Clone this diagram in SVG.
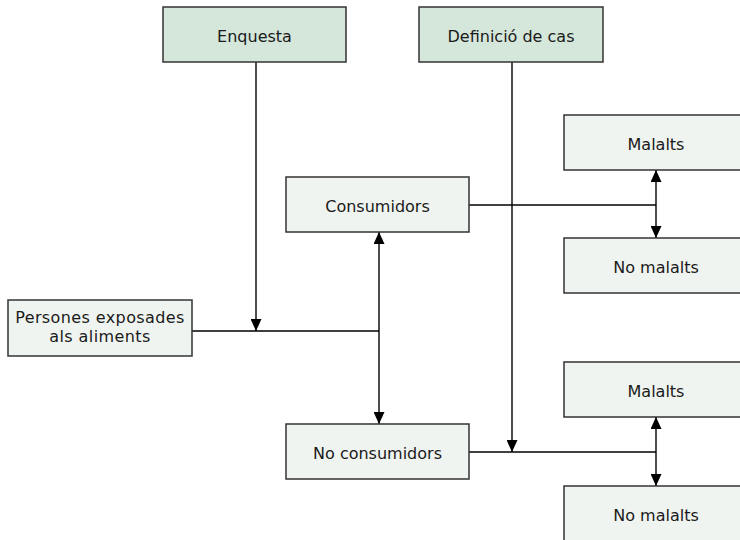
<svg xmlns="http://www.w3.org/2000/svg" width="740" height="540" viewBox="0 0 740 540">
<style>
  .top { fill: #d5e7db; stroke: #333; stroke-width: 1.5; }
  .box { fill: #f0f4f0; stroke: #333; stroke-width: 1.5; }
  text { font-family: "DejaVu Sans", "Liberation Sans", sans-serif; font-size: 16px; fill: #1a1a1a; text-anchor: middle; }
  .conn line { stroke: #000; stroke-width: 1.4; fill: none; }
</style>
<defs>
  <marker id="ah" viewBox="0 0 12 11" refX="12" refY="5.5" markerWidth="12" markerHeight="11" markerUnits="userSpaceOnUse" orient="auto-start-reverse">
    <path d="M0,0 L12,5.5 L0,11 Z" fill="#000"/>
  </marker>
</defs>
<rect width="740" height="540" fill="#fff"/>
<g class="conn">
  <line x1="256" y1="62" x2="256" y2="331" marker-end="url(#ah)"/>
  <line x1="192" y1="331" x2="379" y2="331"/>
  <line x1="379" y1="232" x2="379" y2="424" marker-start="url(#ah)" marker-end="url(#ah)"/>
  <line x1="512" y1="62" x2="512" y2="452" marker-end="url(#ah)"/>
  <line x1="469" y1="205" x2="656" y2="205"/>
  <line x1="656" y1="170" x2="656" y2="238" marker-start="url(#ah)" marker-end="url(#ah)"/>
  <line x1="469" y1="452" x2="656" y2="452"/>
  <line x1="656" y1="417" x2="656" y2="486" marker-start="url(#ah)" marker-end="url(#ah)"/>
</g>
<g id="enquesta">
  <rect class="top" x="163" y="7" width="183" height="55"/>
  <text x="254.5" y="42">Enquesta</text>
</g>
<g id="definicio">
  <rect class="top" x="419" y="7" width="184" height="55"/>
  <text x="511" y="42">Definició de cas</text>
</g>
<g id="persones">
  <rect class="box" x="8" y="300" width="184" height="56"/>
  <text x="100" y="323" letter-spacing="0.4">Persones exposades</text>
  <text x="100" y="342" letter-spacing="0.4">als aliments</text>
</g>
<g id="consumidors">
  <rect class="box" x="286" y="177" width="183" height="55"/>
  <text x="377.5" y="212">Consumidors</text>
</g>
<g id="noconsumidors">
  <rect class="box" x="286" y="424" width="183" height="55"/>
  <text x="377.5" y="459">No consumidors</text>
</g>
<g id="malalts1">
  <rect class="box" x="564" y="115" width="184" height="55"/>
  <text x="656" y="150">Malalts</text>
</g>
<g id="nomalalts1">
  <rect class="box" x="564" y="238" width="184" height="55"/>
  <text x="656" y="273">No malalts</text>
</g>
<g id="malalts2">
  <rect class="box" x="564" y="362" width="184" height="55"/>
  <text x="656" y="397">Malalts</text>
</g>
<g id="nomalalts2">
  <rect class="box" x="564" y="486" width="184" height="55"/>
  <text x="656" y="521">No malalts</text>
</g>
</svg>
